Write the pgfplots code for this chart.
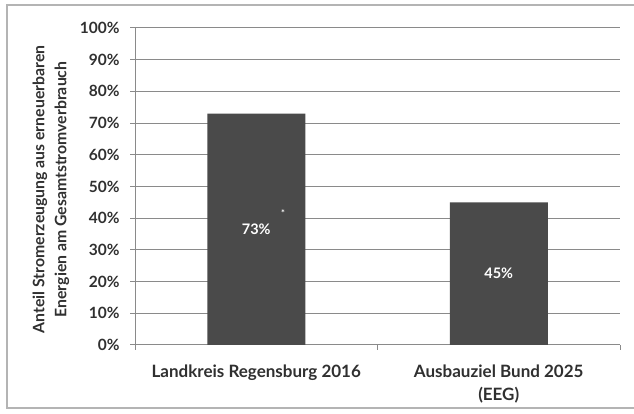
\documentclass[border=0pt]{standalone}
\usepackage{fontspec}
\setmainfont{Lato}
\usepackage{pgfplots}
\pgfplotsset{compat=1.18}

\definecolor{barfill}{HTML}{4A4A4A}
\definecolor{gridgray}{HTML}{8A8A8A}
\definecolor{labelgray}{HTML}{303030}
\definecolor{framegray}{HTML}{B4B4B4}

\begin{document}
\begin{tikzpicture}[x=1pt,y=1pt]
  \useasboundingbox (0,0) rectangle (634,414);
  % outer chart frame
  \draw[framegray, line width=1.5pt] (634,409) -- (7,409) -- (7,6) -- (634,6);
  \begin{axis}[
    at={(135pt,69pt)}, anchor=south west,
    scale only axis,
    width=485pt, height=317pt,
    xmin=-0.5, xmax=1.5,
    ymin=0, ymax=100,
    axis x line*=bottom, axis y line*=left,
    axis line style={gridgray, line width=1pt},
    ytick={0,10,...,100},
    ymajorgrids,
    major grid style={gridgray, line width=1pt},
    tick align=outside,
    major tick length=5pt,
    ytick style={gridgray, line width=1pt},
    yticklabel={\pgfmathprintnumber[assume math mode=true]{\tick}\%},
    yticklabel style={font=\bfseries\fontsize{15.5}{17}\selectfont, text=labelgray, xshift=-7pt},
    xtick={0,1},
    xticklabels={Landkreis Regensburg 2016, Ausbauziel Bund 2025\\(EEG)},
    xticklabel style={font=\bfseries\fontsize{17}{23}\selectfont, text=labelgray, align=center, yshift=-11pt},
    xtick style={draw=none},
    extra x ticks={-0.5,0.5,1.5},
    extra x tick labels={},
    extra x tick style={grid=none, xtick style={draw=gridgray, line width=1pt}},
    bar width=98pt,
    enlargelimits=false,
    clip=false,
    visualization depends on=y \as \rawy,
    nodes near coords={\pgfmathprintnumber[assume math mode=true]{\pgfplotspointmeta}\%},
    every node near coord/.append style={
      anchor=center, text=white,
      font=\bfseries\fontsize{14.5}{16}\selectfont,
      shift={(axis direction cs:0,-\rawy/2)}},
  ]
    \addplot[ybar, fill=barfill, draw=none] coordinates {(0,73) (1,45)};
    \node[text=white, font=\bfseries\fontsize{9}{10}\selectfont] at (axis cs:0.11,41.6) {*};
    \node[rotate=90, align=center, text=labelgray,
          font=\bfseries\fontsize{15.8}{22}\selectfont]
      at ([xshift=-84pt,yshift=-3pt]axis description cs:0,0.5)
      {Anteil Stromerzeugung aus erneuerbaren\\Energien am Gesamtstromverbrauch};
  \end{axis}
\end{tikzpicture}
\end{document}
